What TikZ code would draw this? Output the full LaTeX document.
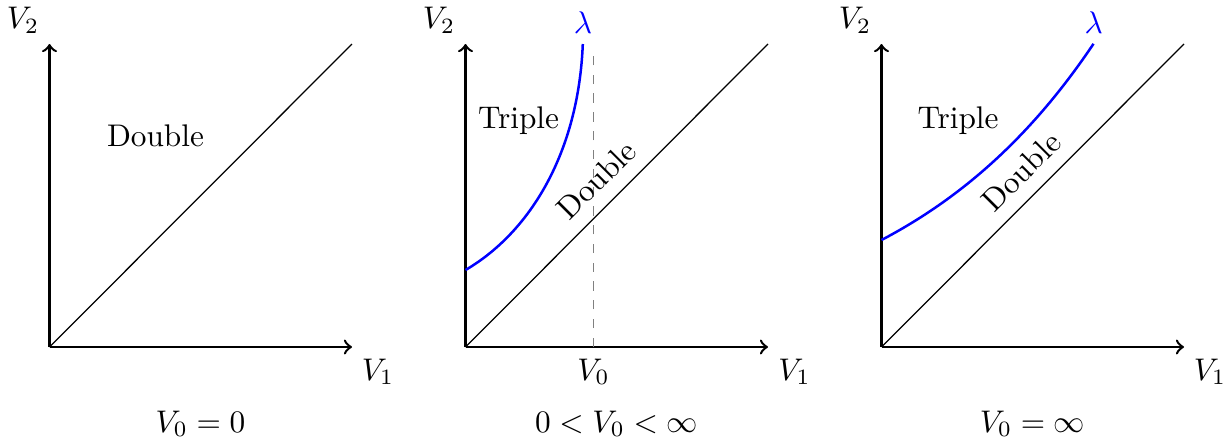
\documentclass[tikz,border=0pt]{standalone}
\begin{document}
\begin{tikzpicture}[x=0.3195pt,y=0.3195pt,
  axis/.style={thick,->},
  diagline/.style={thin},
  lamcurve/.style={blue,thick},
  lbl/.style={anchor=base,inner sep=0pt},
  guide/.style={gray,dashed,thin}]
\useasboundingbox (0,0) rectangle (1231,440);
% ---------- panel 1
\begin{scope}[shift={(49.5,93)}]
  \coordinate (o1) at (0,0);
  \coordinate (x1) at (302.5,0);
  \coordinate (y1) at (0,303);
  \coordinate (d1) at (302.5,303);
  \draw[axis] (o1) -- (x1);
  \draw[axis] (o1) -- (y1);
  \draw[diagline] (o1) -- (d1);
  \node[lbl] (v1p1) at (328.5,-33) {$V_1$};
  \node[lbl] (v2p1) at (-26.5,318.7) {$V_2$};
  \node[lbl] (dbl1) at (106,200.3) {Double};
  \node[lbl] (cap1) at (151,-85) {$V_0=0$};
\end{scope}
% ---------- panel 2
\begin{scope}[shift={(465.5,93)}]
  \coordinate (o2) at (0,0);
  \coordinate (x2) at (302.5,0);
  \coordinate (y2) at (0,303);
  \coordinate (d2) at (302.5,303);
  \coordinate (g0) at (128,0);
  \coordinate (g1) at (128,297);
  \coordinate (c2s) at (0,77);
  \coordinate (c2e) at (117.3,303);
  \draw[axis] (o2) -- (x2);
  \draw[axis] (o2) -- (y2);
  \draw[diagline] (o2) -- (d2);
  \draw[guide] (g0) -- (g1);
  \draw[lamcurve] (c2s) .. controls (65,115) and (113,195) .. (c2e);
  \node[lbl,blue] (lam2) at (117.5,313.7) {$\lambda$};
  \node[lbl] (v1p2) at (329,-33) {$V_1$};
  \node[lbl] (v2p2) at (-26.5,318.7) {$V_2$};
  \node[lbl] (v0p2) at (128,-33) {$V_0$};
  \node[lbl] (tri2) at (53,218.7) {Triple};
  \node[rotate=45] (dbl2) at (131,167) {Double};
  \node[lbl] (cap2) at (151,-85) {$0<V_0<\infty$};
\end{scope}
% ---------- panel 3
\begin{scope}[shift={(881.5,93)}]
  \coordinate (o3) at (0,0);
  \coordinate (x3) at (302.5,0);
  \coordinate (y3) at (0,303);
  \coordinate (d3) at (302.5,303);
  \draw[axis] (o3) -- (x3);
  \draw[axis] (o3) -- (y3);
  \draw[diagline] (o3) -- (d3);
  \draw[lamcurve] plot[domain=0:212,samples=60] (\x,{107*exp(0.004908*\x)});
  \node[lbl,blue] (lam3) at (212.3,313.7) {$\lambda$};
  \node[lbl] (v1p3) at (328.5,-33) {$V_1$};
  \node[lbl] (v2p3) at (-26.5,318.7) {$V_2$};
  \node[lbl] (tri3) at (76.5,218.7) {Triple};
  \node[rotate=45] (dbl3) at (139.8,175.8) {Double};
  \node[lbl] (cap3) at (151,-85) {$V_0=\infty$};
\end{scope}
\end{tikzpicture}
\end{document}
